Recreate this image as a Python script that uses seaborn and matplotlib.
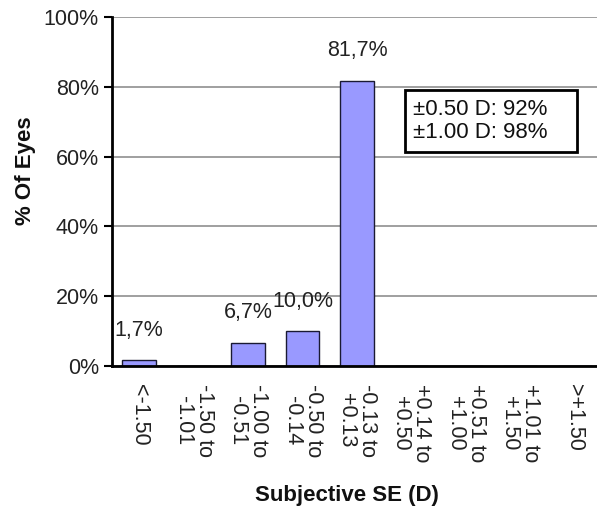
import numpy as np
import pandas as pd
import matplotlib
matplotlib.use("Agg")
import matplotlib.pyplot as plt
from matplotlib.patches import Rectangle
import seaborn as sns

# data
categories = ["<-1.50", "-1.50 to\n-1.01", "-1.00 to\n-0.51", "-0.50 to\n-0.14",
              "-0.13 to\n+0.13", "+0.14 to\n+0.50", "+0.51 to\n+1.00",
              "+1.01 to\n+1.50", ">+1.50"]
values = [1.7, 0.0, 6.7, 10.0, 81.7, 0.0, 0.0, 0.0, 0.0]
bar_labels = ["1,7%", "", "6,7%", "10,0%", "81,7%", "", "", "", ""]
yticks = [0, 20, 40, 60, 80, 100]
box_text = "\u00b10.50 D: 92%\n\u00b11.00 D: 98%"

sns.set_style("white")
plt.rcParams['font.family'] = ['Liberation Sans', 'DejaVu Sans']

df = pd.DataFrame({"bin": categories, "pct": values})

fig = plt.figure(figsize=(5.97, 5.08), dpi=100)
ax = fig.add_axes([112/597, 142/508, 490/597, 349/508])

sns.barplot(data=df, x="bin", y="pct", color="#9999FF", saturation=1,
            edgecolor="#1a1a33", linewidth=1.0, width=0.62, ax=ax)

ax.set_xlim(-0.5, len(categories) - 0.5)
ax.set_ylim(0, 100)
ax.set_yticks(yticks)
ax.set_yticklabels([f"{t}%" for t in yticks], fontsize=15.5, color="#222222")
ax.yaxis.grid(True, color="#8f8f8f", linewidth=1.2)
ax.set_axisbelow(True)

# category labels at centers, tick marks at boundaries
ax.set_xticks(range(len(categories)))
ax.set_xticklabels(categories, rotation=270, ha="center", va="top",
                   fontsize=15.5, color="#222222", linespacing=1.0)
ax.set_xticks(np.arange(-0.5, len(categories), 1), minor=True)
ax.tick_params(axis="x", which="major", length=0, pad=13)
ax.tick_params(axis="x", which="minor", length=6, width=1.5, direction="out",
               color="black")
ax.tick_params(axis="y", length=6, width=1.5, direction="out", color="black",
               left=True)

for side in ["top", "right"]:
    ax.spines[side].set_visible(False)
for side in ["left", "bottom"]:
    ax.spines[side].set_color("black")
    ax.spines[side].set_linewidth(2)

for i, (v, lab) in enumerate(zip(values, bar_labels)):
    if lab:
        ax.annotate(lab, (i, v), xytext=(0, 14), textcoords="offset points",
                    ha="center", va="bottom", fontsize=15.5, color="#222222")

# summary box
ax.add_patch(Rectangle((0.598, 0.613), 0.351, 0.178, transform=ax.transAxes,
                       facecolor="white", edgecolor="black", linewidth=2,
                       zorder=5))
ax.text(0.614, 0.702, box_text, transform=ax.transAxes, fontsize=16,
        ha="left", va="center", color="#111111", linespacing=1.15, zorder=6)

ax.set_xlabel("")
ax.set_ylabel("% Of Eyes", fontsize=16, fontweight="bold", color="#111111")
ax.yaxis.set_label_coords(-0.155, 0.56)
fig.text(347/597, 1 - 495/508, "Subjective SE (D)", fontsize=16,
         fontweight="bold", ha="center", va="center", color="#111111")

fig.savefig("out.png", dpi=100)
